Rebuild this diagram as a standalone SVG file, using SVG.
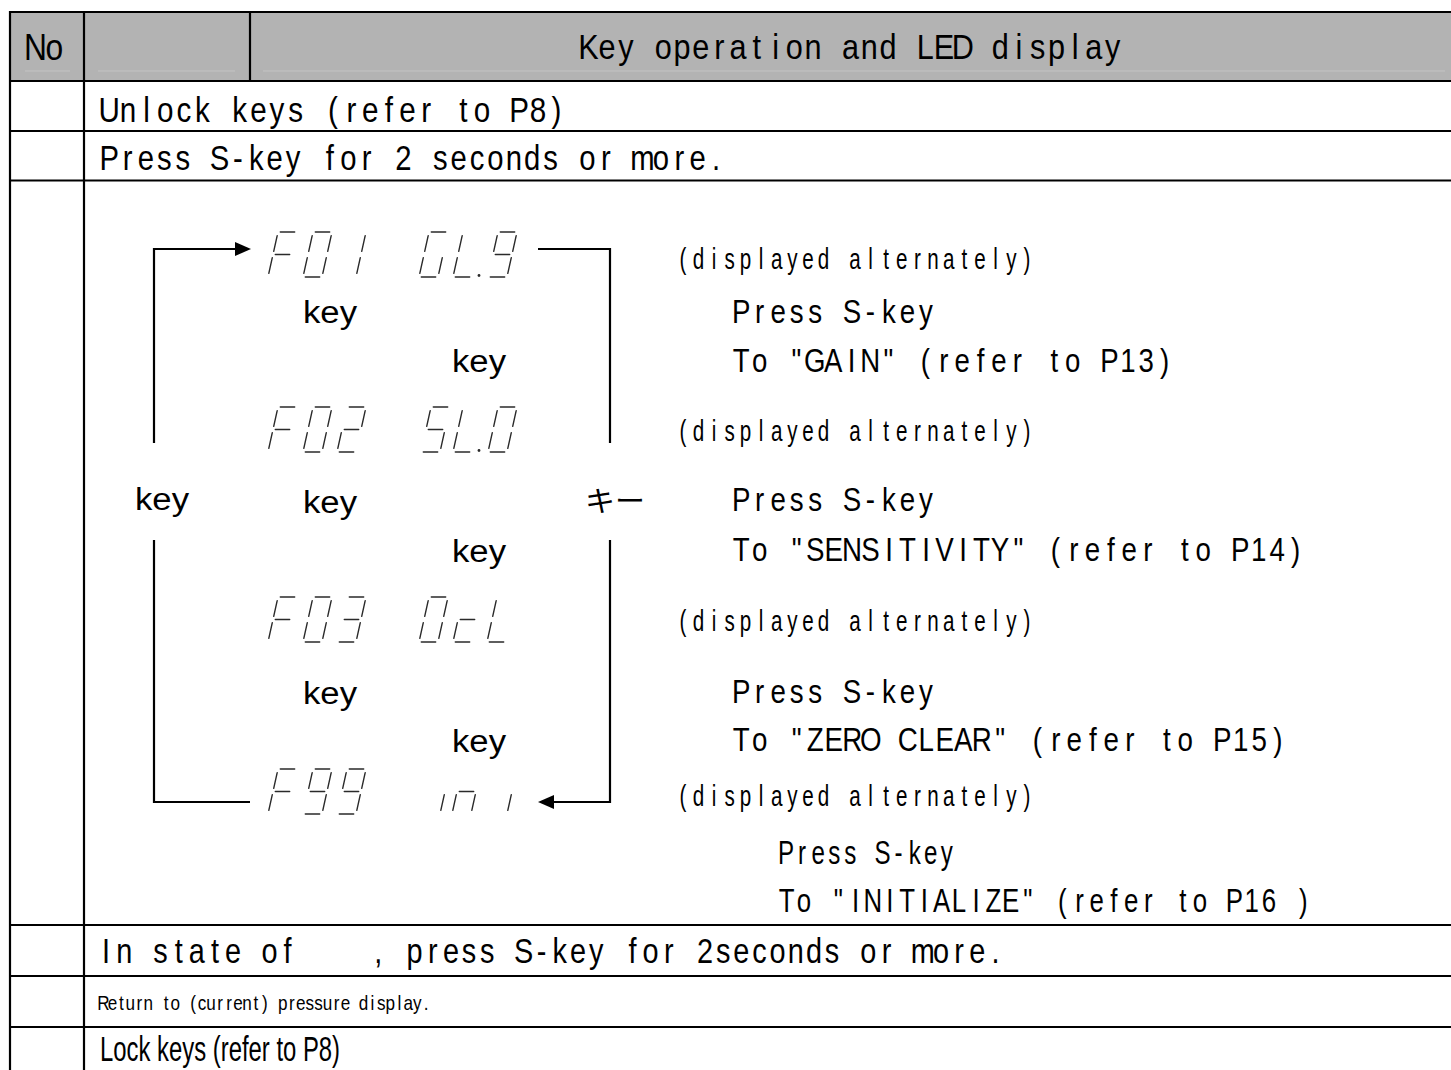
<svg xmlns="http://www.w3.org/2000/svg" width="1451" height="1070" viewBox="0 0 1451 1070">
<style>
.ln{stroke:#000;stroke-width:2.2;fill:none}
.faint{stroke:#c4c4c4;stroke-width:1}
.seg{stroke:#2a2a2a;stroke-width:1.4;fill:none;stroke-linecap:round}
.m{font-family:"Liberation Sans",Arial,sans-serif;fill:#000;text-anchor:middle;white-space:pre}
.p{font-family:"Liberation Sans",Arial,sans-serif;fill:#000}
.k{font-family:"Liberation Sans",Arial,sans-serif;font-size:31px;fill:#000}
.j{font-family:"Noto Sans CJK JP","Liberation Sans",sans-serif;font-size:29px;fill:#000}
.con{stroke:#000;stroke-width:2.2;fill:none}
</style>
<defs>
<path id="sa" d="M12.3,0H26.7"/>
<path id="sb" d="M28.2,3.6L24.7,19.4"/>
<path id="sc" d="M23.3,25.6L19.8,41.4"/>
<path id="sd" d="M2.3,45H16.7"/>
<path id="se" d="M4.3,25.6L0.8,41.4"/>
<path id="sf" d="M9.2,3.6L5.7,19.4"/>
<path id="sg" d="M7.3,22.5H21.7"/>
<g id="dF"><use href="#sa"/><use href="#sf"/><use href="#se"/><use href="#sg"/></g>
<g id="d0"><use href="#sa"/><use href="#sb"/><use href="#sc"/><use href="#sd"/><use href="#se"/><use href="#sf"/></g>
<g id="d1"><use href="#sb"/><use href="#sc"/></g>
<g id="d2"><use href="#sa"/><use href="#sb"/><use href="#sg"/><use href="#se"/><use href="#sd"/></g>
<g id="d3"><use href="#sa"/><use href="#sb"/><use href="#sg"/><use href="#sc"/><use href="#sd"/></g>
<g id="d9"><use href="#sa"/><use href="#sb"/><use href="#sc"/><use href="#sd"/><use href="#sf"/><use href="#sg"/></g>
<g id="dG"><use href="#sa"/><use href="#sf"/><use href="#se"/><use href="#sd"/><use href="#sc"/></g>
<g id="dL"><use href="#sf"/><use href="#se"/><use href="#sd"/></g>
<g id="dS"><use href="#sa"/><use href="#sf"/><use href="#sg"/><use href="#sc"/><use href="#sd"/></g>
<g id="dc"><use href="#sg"/><use href="#se"/><use href="#sd"/></g>
<g id="dn"><use href="#sg"/><use href="#se"/><use href="#sc"/></g>
<g id="di"><use href="#sc"/></g>
</defs>
<rect width="1451" height="1070" fill="#fff"/>
<g id="table">
<rect x="10" y="12" width="1441" height="69" fill="#b3b3b3"/>
<line class="faint" x1="25" y1="71" x2="70" y2="71"/>
<line class="faint" x1="98" y1="71" x2="235" y2="71"/>
<line class="faint" x1="263" y1="71" x2="1445" y2="71"/>
<line class="ln" x1="10" y1="12" x2="1451" y2="12"/>
<line class="ln" x1="10" y1="81" x2="1451" y2="81"/>
<line class="ln" x1="10" y1="131" x2="1451" y2="131"/>
<line class="ln" x1="10" y1="180.5" x2="1451" y2="180.5"/>
<line class="ln" x1="10" y1="925" x2="1451" y2="925"/>
<line class="ln" x1="10" y1="976" x2="1451" y2="976"/>
<line class="ln" x1="10" y1="1027" x2="1451" y2="1027"/>
<line class="ln" x1="10" y1="11" x2="10" y2="1070"/>
<line class="ln" x1="84" y1="11" x2="84" y2="1070"/>
<line class="ln" x1="250" y1="11" x2="250" y2="81"/>
<text class="m" transform="translate(26,60) scale(0.86,1)" x="11 33" font-size="37">No</text>
<text class="m" transform="translate(579,59) scale(0.851,1)" x="11 33 55 77 99 121 143 165 187 209 231 253 275 297 319 341 363 385 407 429 451 473 495 517 539 561 583 605 627 649 671" font-size="36">Key operation and LED display</text>
</g>
<g id="row-unlock"><text class="m" transform="translate(100,122) scale(0.847,1)" x="11 33 55 77 99 121 143 165 187 209 231 253 275 297 319 341 363 385 407 429 451 473 495 517 539 561 583" font-size="35">Unlock keys (refer to P8)</text></g>
<g id="row-press"><text class="m" transform="translate(100,170) scale(0.836,1)" x="11 33 55 77 99 121 143 165 187 209 231 253 275 297 319 341 363 385 407 429 451 473 495 517 539 561 583 605 627 649 671 693 715 737 759" font-size="35">Press S-key for 2 seconds or more.</text></g>
<g id="node-f01" class="seg">
<use href="#dF" x="268" y="232"/><use href="#d0" x="303" y="232"/><use href="#d1" x="337" y="232"/>
<use href="#dG" x="419" y="232"/><use href="#dL" x="453" y="232"/><use href="#d9" x="488" y="232"/>
<circle cx="479" cy="275.5" r="1.4" fill="#2a2a2a" stroke="none"/>
</g>
<g id="node-f02" class="seg">
<use href="#dF" x="268" y="407"/><use href="#d0" x="303" y="407"/><use href="#d2" x="337" y="407"/>
<use href="#dS" x="421" y="407"/><use href="#dL" x="453" y="407"/><use href="#d0" x="488" y="407"/>
<circle cx="479" cy="450.5" r="1.4" fill="#2a2a2a" stroke="none"/>
</g>
<g id="node-f03" class="seg">
<use href="#dF" x="268" y="597"/><use href="#d0" x="303" y="597"/><use href="#d3" x="337" y="597"/>
<use href="#d0" x="419" y="597"/><use href="#dc" x="453" y="597"/><use href="#dL" x="487" y="597"/>
</g>
<g id="node-f99" class="seg">
<use href="#dF" x="268" y="769"/><use href="#d9" x="303" y="769"/><use href="#d9" x="337" y="769"/>
<use href="#di" x="421" y="769"/><use href="#dn" x="452" y="769"/><use href="#di" x="488" y="769"/>
</g>
<g id="labels-keys">
<text class="k" x="303" y="323" textLength="54" lengthAdjust="spacingAndGlyphs">key</text>
<text class="k" x="452" y="372" textLength="54" lengthAdjust="spacingAndGlyphs">key</text>
<text class="k" x="135" y="510" textLength="54" lengthAdjust="spacingAndGlyphs">key</text>
<text class="k" x="303" y="513" textLength="54" lengthAdjust="spacingAndGlyphs">key</text>
<text class="k" x="452" y="562" textLength="54" lengthAdjust="spacingAndGlyphs">key</text>
<text class="k" x="303" y="704" textLength="54" lengthAdjust="spacingAndGlyphs">key</text>
<text class="k" x="452" y="752" textLength="54" lengthAdjust="spacingAndGlyphs">key</text>
<text class="j" x="585" y="512" textLength="60" lengthAdjust="spacingAndGlyphs">キー</text>
</g>
<g id="notes">
<text class="m" transform="translate(675,269) scale(0.711,1)" x="11 33 55 77 99 121 143 165 187 209 231 253 275 297 319 341 363 385 407 429 451 473 495 517" font-size="29">(displayed alternately)</text>
<text class="m" transform="translate(732,323) scale(0.839,1)" x="11 33 55 77 99 121 143 165 187 209 231 253" font-size="33">Press S-key</text>
<text class="m" transform="translate(732,372) scale(0.837,1)" x="11 33 55 77 99 121 143 165 187 209 231 253 275 297 319 341 363 385 407 429 451 473 495 517 539" font-size="33">To "GAIN" (refer to P13)</text>
<text class="m" transform="translate(675,441) scale(0.711,1)" x="11 33 55 77 99 121 143 165 187 209 231 253 275 297 319 341 363 385 407 429 451 473 495 517" font-size="29">(displayed alternately)</text>
<text class="m" transform="translate(732,511) scale(0.839,1)" x="11 33 55 77 99 121 143 165 187 209 231 253" font-size="33">Press S-key</text>
<text class="m" transform="translate(732,561) scale(0.84,1)" x="11 33 55 77 99 121 143 165 187 209 231 253 275 297 319 341 363 385 407 429 451 473 495 517 539 561 583 605 627 649 671 693" font-size="33">To "SENSITIVITY" (refer to P14)</text>
<text class="m" transform="translate(675,631) scale(0.711,1)" x="11 33 55 77 99 121 143 165 187 209 231 253 275 297 319 341 363 385 407 429 451 473 495 517" font-size="29">(displayed alternately)</text>
<text class="m" transform="translate(732,703) scale(0.839,1)" x="11 33 55 77 99 121 143 165 187 209 231 253" font-size="33">Press S-key</text>
<text class="m" transform="translate(732,751) scale(0.841,1)" x="11 33 55 77 99 121 143 165 187 209 231 253 275 297 319 341 363 385 407 429 451 473 495 517 539 561 583 605 627 649 671" font-size="33">To "ZERO CLEAR" (refer to P15)</text>
<text class="m" transform="translate(675,806) scale(0.711,1)" x="11 33 55 77 99 121 143 165 187 209 231 253 275 297 319 341 363 385 407 429 451 473 495 517" font-size="29">(displayed alternately)</text>
<text class="m" transform="translate(778,864) scale(0.731,1)" x="11 33 55 77 99 121 143 165 187 209 231 253" font-size="33">Press S-key</text>
<text class="m" transform="translate(778,912) scale(0.783,1)" x="11 33 55 77 99 121 143 165 187 209 231 253 275 297 319 341 363 385 407 429 451 473 495 517 539 561 583 605 627 649 671 693" font-size="33">To "INITIALIZE" (refer to P16 )</text>
</g>
<g id="row-state"><text class="m" xml:space="preserve" transform="translate(97,963) scale(0.825,1)" x="11 33 55 77 99 121 143 165 187 209 231 253 275 297 319 341 363 385 407 429 451 473 495 517 539 561 583 605 627 649 671 693 715 737 759 781 803 825 847 869 891 913 935 957 979 1001 1023 1045 1067 1089 1111" font-size="35">In state of    , press S-key for 2seconds or more.</text></g>
<g id="row-return"><text class="m" transform="translate(99,1010) scale(0.815,1)" x="5.5 16.5 27.5 38.5 49.5 60.5 71.5 82.5 93.5 104.5 115.5 126.5 137.5 148.5 159.5 170.5 181.5 192.5 203.5 214.5 225.5 236.5 247.5 258.5 269.5 280.5 291.5 302.5 313.5 324.5 335.5 346.5 357.5 368.5 379.5 390.5 401.5" font-size="21">Return to (current) pressure display.</text></g>
<g id="row-lock"><text class="p" transform="scale(0.7,1)" x="142.9" y="1061" font-size="35" textLength="342.9" lengthAdjust="spacingAndGlyphs">Lock keys (refer to P8)</text></g>
<g id="connectors">
<path class="con" d="M154,443V249H237"/>
<polygon points="235,242 251,249 235,256" fill="#000"/>
<path class="con" d="M154,540V802H250"/>
<path class="con" d="M538,249H610V443"/>
<path class="con" d="M610,540V802H552"/>
<polygon points="554,795 538,802 554,809" fill="#000"/>
</g>
</svg>
